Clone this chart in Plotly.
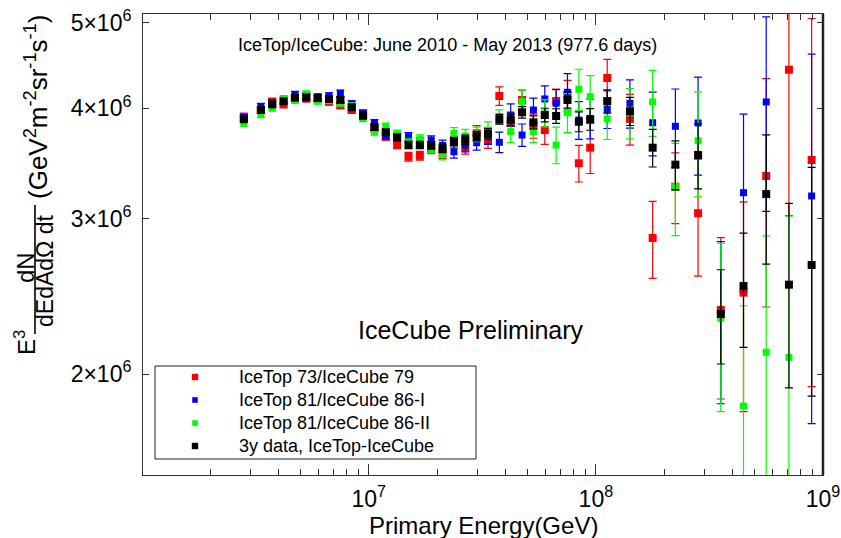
import plotly.graph_objects as go

# ---------------- data (values in units of 1e6 GeV^2 m^-2 sr^-1 s^-1) ----------------
log_energy = [6.45, 6.525, 6.575, 6.625, 6.675, 6.725, 6.775, 6.825, 6.875, 6.925,
              6.975, 7.025, 7.075, 7.125, 7.175, 7.225, 7.275, 7.325, 7.375, 7.425,
              7.475, 7.525, 7.575, 7.625, 7.675, 7.725, 7.775, 7.825, 7.875, 7.925,
              7.975, 8.05, 8.15, 8.25, 8.35, 8.45, 8.55, 8.65, 8.75, 8.85, 8.95]

red_flux = [3.913, 3.982, 4.069, 4.041, 4.108, 4.103, 4.098, 4.069, 4.031, 3.982,
            3.948, 3.799, 3.715, 3.634, 3.525, 3.534, 3.594, 3.557, 3.663, 3.609,
            3.747, 3.682, 4.130, 3.850, 4.087, 3.819, 3.779, 4.076, 4.141, 3.465,
            3.609, 4.328, 3.890, 2.852, 3.260, 3.042, 2.364, 2.473, 3.352, 4.423, 3.495]
red_err = [0.035] * 14 + [0.04, 0.04, 0.04, 0.05, 0.055, 0.06, 0.075, 0.08,
           0.10, 0.10, 0.107, 0.12, 0.138, 0.13, 0.16, 0.165, 0.235,
           0.215, 0.257, 0.285, 0.30, 0.46, 0.49, 0.66, 0.97, 1.40, 1.56]

blue_flux = [3.900, 4.016, 4.055, 4.087, 4.144, 4.130, 4.119, 4.130, 4.159, 4.045,
             3.941, 3.849, 3.723, 3.711, 3.714, 3.663, 3.682, 3.631, 3.571, 3.634,
             3.656, 3.721, 3.660, 3.930, 3.730, 3.982, 4.098, 4.052, 4.170, 3.879,
             3.893, 3.989, 4.052, 3.852, 3.816, 3.849, 2.338, 3.209, 4.066, None, 3.182]
blue_err = [0.035] * 14 + [0.04, 0.04, 0.04, 0.05, 0.059, 0.065, 0.07, 0.08,
            0.098, 0.115, 0.109, 0.125, 0.142, 0.148, 0.207, 0.19, 0.20,
            0.195, 0.255, 0.32, 0.39, 0.49, 0.487, 0.73, 1.01, 0.0, 1.425]

green_flux = [3.849, 3.937, 4.006, 4.098, 4.087, 4.151, 4.079, 4.087, 4.058, 4.022,
              3.897, 3.763, 3.812, 3.743, 3.653, 3.692, 3.603, 3.547, 3.747, 3.721,
              3.737, 3.779, 3.913, 3.763, 4.069, 3.763, 3.950, 3.634, 3.954, 4.203,
              4.123, 3.890, 3.951, 4.066, 3.260, 3.675, 2.313, 1.840, 2.117, 2.089, None]
green_err = [0.035] * 14 + [0.04, 0.04, 0.04, 0.05, 0.056, 0.065, 0.07, 0.082,
             0.07, 0.106, 0.124, 0.106, 0.14, 0.173, 0.201, 0.225, 0.233,
             0.203, 0.258, 0.35, 0.39, 0.50, 0.50, 0.55, 0.75, 0.93, 0.0]

black_flux = [3.887, 3.982, 4.041, 4.073, 4.112, 4.116, 4.108, 4.098, 4.087, 4.010,
              3.923, 3.809, 3.757, 3.708, 3.634, 3.634, 3.631, 3.603, 3.666, 3.685,
              3.718, 3.743, 3.887, 3.879, 3.958, 3.856, 3.930, 3.920, 4.087, 3.862,
              3.887, 4.073, 3.969, 3.609, 3.453, 3.541, 2.339, 2.516, 3.198, 2.525, 2.658]
black_err = [0.03] * 14 + [0.035, 0.035, 0.035, 0.04, 0.04, 0.045, 0.045, 0.05,
             0.05, 0.055, 0.06, 0.065, 0.07, 0.075, 0.085, 0.10, 0.11,
             0.123, 0.145, 0.177, 0.22, 0.30, 0.286, 0.372, 0.534, 0.596, 0.77]

series_names = ["IceTop 73/IceCube 79", "IceTop 81/IceCube 86-I",
                "IceTop 81/IceCube 86-II", "3y data, IceTop-IceCube"]
series_colors = ["#FF0000", "#0000FF", "#00FF00", "#000000"]

x_tick_vals = [1e7, 1e8, 1e9]
x_tick_text = ["10<sup>7</sup>", "10<sup>8</sup>", "10<sup>9</sup>"]
y_tick_vals = [2e6, 3e6, 4e6, 5e6]
y_tick_text = ["2×10<sup>6</sup>", "3×10<sup>6</sup>", "4×10<sup>6</sup>", "5×10<sup>6</sup>"]

# ---------------- figure ----------------
W, H = 841, 538
L, R, T, B = 143, 18, 14, 63
PW, PH = W - L - R, H - T - B
FONT = "Liberation Sans, Arial, sans-serif"


def px(xp):
    return (xp - L) / PW


def py(yp):
    return (H - B - yp) / PH


energy = [10 ** v for v in log_energy]
fig = go.Figure()
all_flux = [red_flux, blue_flux, green_flux, black_flux]
all_err = [red_err, blue_err, green_err, black_err]
sizes = [8, 7, 7, 8]
for name, col, flux, err, sz in zip(series_names, series_colors, all_flux, all_err, sizes):
    fig.add_trace(go.Scatter(
        x=energy,
        y=[None if f is None else f * 1e6 for f in flux],
        mode="markers",
        name=name,
        showlegend=False,
        marker=dict(symbol="square", size=sz, color=col, line=dict(width=0)),
        error_y=dict(type="data", array=[e * 1e6 for e in err], color=col,
                     thickness=1.2, width=4, visible=True),
        cliponaxis=True,
    ))

minor_x = [m * 10 ** d for d in (6, 7, 8) for m in range(2, 10)]

fig.update_layout(
    width=W, height=H,
    margin=dict(l=L, r=R, t=T, b=B, pad=0, autoexpand=False),
    paper_bgcolor="white", plot_bgcolor="white",
    font=dict(family=FONT, color="black"),
    showlegend=False,
    xaxis=dict(
        type="log", range=[6.006, 9.0], automargin=False,
        tickvals=x_tick_vals, ticktext=x_tick_text,
        ticks="inside", ticklen=11, tickwidth=1, tickcolor="#333",
        showline=True, linecolor="#333", linewidth=1, mirror="ticks",
        showgrid=False, zeroline=False,
        tickfont=dict(size=23, family=FONT, color="black"),
        ticklabelstandoff=3,
        minor=dict(tickvals=minor_x, ticks="inside", ticklen=6, tickcolor="#333",
                   tickwidth=1, showgrid=False),
    ),
    yaxis=dict(
        type="log", range=[6.1867, 6.7088], automargin=False,
        tickvals=y_tick_vals, ticktext=y_tick_text,
        ticks="inside", ticklen=6, tickwidth=1, tickcolor="#333",
        showline=True, linecolor="#333", linewidth=1, mirror="ticks",
        showgrid=False, zeroline=False,
        tickfont=dict(size=23, family=FONT, color="black"),
        ticklabelstandoff=6,
    ),
)

# thicker right frame edge
fig.add_shape(type="line", xref="paper", yref="paper", x0=1, x1=1, y0=0, y1=1,
              line=dict(color="#222", width=2.5))

# x-axis title
fig.add_annotation(xref="paper", yref="paper", x=px(483), y=py(525),
                   text="Primary Energy(GeV)", showarrow=False,
                   font=dict(size=24, family=FONT), xanchor="center", yanchor="middle")

# top text
fig.add_annotation(xref="paper", yref="paper", x=px(447), y=py(45),
                   text="IceTop/IceCube: June 2010 - May 2013 (977.6 days)",
                   showarrow=False, font=dict(size=18, family=FONT),
                   xanchor="center", yanchor="middle")
fig.add_annotation(xref="paper", yref="paper", x=px(471), y=py(330),
                   text="IceCube Preliminary", showarrow=False,
                   font=dict(size=25, family=FONT), xanchor="center", yanchor="middle")

# legend drawn by hand
fig.add_shape(type="rect", xref="paper", yref="paper",
              x0=px(155), x1=px(476), y0=py(459), y1=py(366),
              line=dict(color="#222", width=1), fillcolor="white", layer="above")
rows_y = [377, 400, 423, 446]
msz = [3.2, 2.8, 2.8, 3.2]
for name, col, ry, h in zip(series_names, series_colors, rows_y, msz):
    fig.add_shape(type="rect", xref="paper", yref="paper",
                  x0=px(195 - h), x1=px(195 + h), y0=py(ry + h), y1=py(ry - h),
                  line=dict(width=0), fillcolor=col, layer="above")
    fig.add_annotation(xref="paper", yref="paper", x=px(237), y=py(ry),
                       text=name, showarrow=False, font=dict(size=18, family=FONT),
                       xanchor="left", yanchor="middle")

# y-axis title built from pieces (rotated)
fig.add_annotation(xref="paper", yref="paper", x=px(25), y=py(343),
                   text="E<sup>3</sup>", textangle=-90, showarrow=False,
                   font=dict(size=24, family=FONT), xanchor="center", yanchor="middle")
fig.add_annotation(xref="paper", yref="paper", x=px(25), y=py(268),
                   text="dN", textangle=-90, showarrow=False,
                   font=dict(size=24, family=FONT), xanchor="center", yanchor="middle")
fig.add_shape(type="line", xref="paper", yref="paper", x0=px(35), x1=px(35),
              y0=py(334), y1=py(205), line=dict(color="black", width=1.6))
fig.add_annotation(xref="paper", yref="paper", x=px(45), y=py(271),
                   text="dEdAdΩ dt", textangle=-90, showarrow=False,
                   font=dict(size=23, family=FONT), xanchor="center", yanchor="middle")
fig.add_annotation(xref="paper", yref="paper", x=px(37), y=py(107),
                   text="(GeV<sup>2</sup>m<sup>-2</sup>sr<sup>-1</sup>s<sup>-1</sup>)",
                   textangle=-90, showarrow=False,
                   font=dict(size=26, family=FONT), xanchor="center", yanchor="middle")

fig.write_html("out.html")
